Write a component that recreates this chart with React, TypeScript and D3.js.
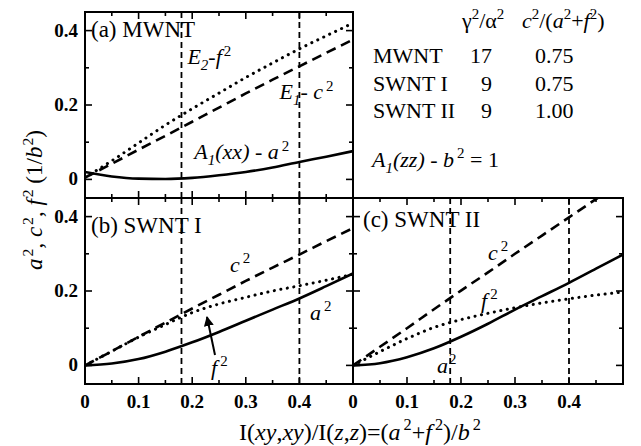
import React from 'react';
import * as d3 from 'd3';

// ---------- data ----------
const xGrid = [0, 0.05, 0.1, 0.15, 0.2, 0.25, 0.3, 0.35, 0.4, 0.45, 0.5];

// (a) MWNT
const mwntE2f2 = [0.005, 0.05, 0.098, 0.146, 0.19, 0.232, 0.274, 0.313, 0.351, 0.386, 0.42];
const mwntE1c2 = [0.005, 0.042, 0.08, 0.117, 0.155, 0.193, 0.231, 0.268, 0.304, 0.34, 0.376];
const mwntA1a2 = [0.02, 0.008, 0.002, 0.001, 0.004, 0.011, 0.02, 0.032, 0.047, 0.061, 0.076];

// (b) SWNT I
const swnt1c2 = [0, 0.038, 0.077, 0.115, 0.153, 0.19, 0.227, 0.263, 0.298, 0.334, 0.369];
const swnt1f2 = [0, 0.038, 0.076, 0.11, 0.142, 0.165, 0.183, 0.2, 0.214, 0.229, 0.245];
const swnt1a2 = [0, 0.005, 0.017, 0.037, 0.062, 0.09, 0.12, 0.15, 0.18, 0.213, 0.247];

// (c) SWNT II
const swnt2c2 = [0, 0.05, 0.1, 0.151, 0.201, 0.25, 0.3, 0.349, 0.398, 0.447, 0.495];
const swnt2f2 = [0, 0.037, 0.072, 0.102, 0.123, 0.14, 0.155, 0.168, 0.179, 0.189, 0.197];
const swnt2a2 = [0, 0.006, 0.022, 0.046, 0.077, 0.112, 0.15, 0.186, 0.222, 0.26, 0.298];

const refLines = [0.18, 0.4];
const xMajorTicks = [0, 0.1, 0.2, 0.3, 0.4, 0.5];
const xMinorTicks = [0.05, 0.15, 0.25, 0.35, 0.45];
const xTickLabels = ['0', '0.1', '0.2', '0.3', '0.4'];
const yMajorTicks = [0, 0.2, 0.4];
const yMinorTicks = [0.1, 0.3];
const yTickLabels = ['0', '0.2', '0.4'];

const tableNames = ['MWNT', 'SWNT I', 'SWNT II'];
const tableGamma = ['17', '9', '9'];
const tableRatio = ['0.75', '0.75', '1.00'];

// ---------- layout ----------
const W = 641, H = 446;
const FONT = 'Liberation Serif, Times New Roman, Times, DejaVu Serif, serif';
const xDomain: [number, number] = [0, 0.5];
const yDomain: [number, number] = [-0.05, 0.45];

type Box = { x0: number; x1: number; y0: number; y1: number };
const boxA: Box = { x0: 85, x1: 353, y0: 12, y1: 198 };
const boxB: Box = { x0: 85, x1: 353, y0: 198, y1: 384 };
const boxC: Box = { x0: 353, x1: 623, y0: 198, y1: 384 };

type Part = { t: string; s?: 'sup' | 'sub'; i?: boolean; dx?: number };

function Rich({ x, y, parts, size, anchor, transform }: { x: number; y: number; parts: Part[]; size: number; anchor?: string; transform?: string }) {
  let shift = 0;
  return (
    <text x={x} y={y} fontSize={size} style={{ fontFamily: FONT }} textAnchor={anchor || 'start'} transform={transform}>
      {parts.map((p, k) => {
        const target = p.s === 'sup' ? -size * 0.4 : p.s === 'sub' ? size * 0.25 : 0;
        const dy = target - shift;
        shift = target;
        return (
          <tspan key={k} dy={dy} dx={p.dx || 0} fontSize={p.s ? size * 0.68 : size} fontStyle={p.i ? 'italic' : 'normal'}>
            {p.t}
          </tspan>
        );
      })}
    </text>
  );
}

function makeScales(b: Box) {
  const x = d3.scaleLinear().domain(xDomain).range([b.x0, b.x1]);
  const y = d3.scaleLinear().domain(yDomain).range([b.y1, b.y0]);
  return { x, y };
}

const styles: Record<string, any> = {
  solid: { strokeWidth: 2.6 },
  dashed: { strokeWidth: 2.6, strokeDasharray: '10,6' },
  dotted: { strokeWidth: 3, strokeDasharray: '0.1,6.5', strokeLinecap: 'round' },
};

function Panel({ id, box, series, xLabels, yLabels }: { id: string; box: Box; series: { v: number[]; st: string }[]; xLabels: boolean; yLabels: boolean }) {
  const { x, y } = makeScales(box);
  const line = d3.line<number>().x((_, i) => x(xGrid[i])).y((d) => y(d)).curve(d3.curveMonotoneX);
  const maj = 7, min = 4;
  return (
    <g>
      <defs>
        <clipPath id={'clip' + id}>
          <rect x={box.x0} y={box.y0} width={box.x1 - box.x0} height={box.y1 - box.y0} />
        </clipPath>
      </defs>
      <g clipPath={`url(#clip${id})`}>
        {refLines.map((r) => (
          <line key={r} x1={x(r)} x2={x(r)} y1={box.y0} y2={box.y1} stroke="#000" strokeWidth={1.8} strokeDasharray="6,4" />
        ))}
        {series.map((s, i) => (
          <path key={i} d={line(s.v) || ''} fill="none" stroke="#000" {...styles[s.st]} />
        ))}
      </g>
      {xMajorTicks.map((t) => (
        <g key={'xm' + t}>
          <line x1={x(t)} x2={x(t)} y1={box.y1} y2={box.y1 - maj} stroke="#000" strokeWidth={1.6} />
          <line x1={x(t)} x2={x(t)} y1={box.y0} y2={box.y0 + maj} stroke="#000" strokeWidth={1.6} />
        </g>
      ))}
      {xMinorTicks.map((t) => (
        <g key={'xn' + t}>
          <line x1={x(t)} x2={x(t)} y1={box.y1} y2={box.y1 - min} stroke="#000" strokeWidth={1.6} />
          <line x1={x(t)} x2={x(t)} y1={box.y0} y2={box.y0 + min} stroke="#000" strokeWidth={1.6} />
        </g>
      ))}
      {yMajorTicks.map((t) => (
        <g key={'ym' + t}>
          <line x1={box.x0} x2={box.x0 + maj} y1={y(t)} y2={y(t)} stroke="#000" strokeWidth={1.6} />
          <line x1={box.x1} x2={box.x1 - maj} y1={y(t)} y2={y(t)} stroke="#000" strokeWidth={1.6} />
        </g>
      ))}
      {yMinorTicks.map((t) => (
        <g key={'yn' + t}>
          <line x1={box.x0} x2={box.x0 + min} y1={y(t)} y2={y(t)} stroke="#000" strokeWidth={1.6} />
          <line x1={box.x1} x2={box.x1 - min} y1={y(t)} y2={y(t)} stroke="#000" strokeWidth={1.6} />
        </g>
      ))}
      <rect x={box.x0} y={box.y0} width={box.x1 - box.x0} height={box.y1 - box.y0} fill="none" stroke="#000" strokeWidth={2} />
      {xLabels &&
        xTickLabels.map((l, i) => (
          <text key={'xl' + l} x={x(xMajorTicks[i])} y={box.y1 + 24} textAnchor="middle" style={{ fontFamily: FONT }} fontWeight="bold" fontSize={19}>
            {l}
          </text>
        ))}
      {yLabels &&
        yTickLabels.map((l, i) => (
          <text key={'yl' + l} x={box.x0 - 7} y={y(yMajorTicks[i]) + 6} textAnchor="end" style={{ fontFamily: FONT }} fontWeight="bold" fontSize={19}>
            {l}
          </text>
        ))}
    </g>
  );
}

export default function App() {
  const sA = makeScales(boxA);
  const fs = 22;
  const ft = 23;
  const T = { fontFamily: FONT };
  return (
    <svg width={W} height={H} viewBox={`0 0 ${W} ${H}`} style={{ position: 'absolute', left: 0, top: 0, background: '#fff', fontFamily: FONT }}>
      <defs>
        <marker id="arrowHead" viewBox="0 0 10 10" refX="9" refY="5" markerWidth="5" markerHeight="5" orient="auto">
          <path d="M0,0 L10,5 L0,10 z" fill="#000" />
        </marker>
      </defs>
      <rect x={0} y={0} width={W} height={H} fill="#fff" />

      <Panel id="a" box={boxA} xLabels={false} yLabels={true}
        series={[{ v: mwntE2f2, st: 'dotted' }, { v: mwntE1c2, st: 'dashed' }, { v: mwntA1a2, st: 'solid' }]} />
      <Panel id="b" box={boxB} xLabels={true} yLabels={true}
        series={[{ v: swnt1c2, st: 'dashed' }, { v: swnt1f2, st: 'dotted' }, { v: swnt1a2, st: 'solid' }]} />
      <Panel id="c" box={boxC} xLabels={true} yLabels={false}
        series={[{ v: swnt2c2, st: 'dashed' }, { v: swnt2f2, st: 'dotted' }, { v: swnt2a2, st: 'solid' }]} />

      <text x={91} y={37} style={T} fontSize={ft}>(a) MWNT</text>
      <text x={91} y={233} style={T} fontSize={ft}>(b) SWNT I</text>
      <text x={363} y={227} style={T} fontSize={ft}>(c) SWNT II</text>

      <Rich x={sA.x(0.191)} y={sA.y(0.309)} size={fs} parts={[{ t: 'E', i: true }, { t: '2', s: 'sub', i: true }, { t: '-', i: true }, { t: 'f', i: true }, { t: '2', s: 'sup', dx: 2 }]} />
      <Rich x={sA.x(0.363)} y={sA.y(0.215)} size={fs} parts={[{ t: 'E', i: true }, { t: '1', s: 'sub', i: true }, { t: '- ' }, { t: 'c', i: true }, { t: '2', s: 'sup', dx: 3 }]} />
      <Rich x={sA.x(0.204)} y={sA.y(0.054)} size={fs} parts={[{ t: 'A', i: true }, { t: '1', s: 'sub', i: true }, { t: '(xx) - a', i: true }, { t: '2', s: 'sup', dx: 3 }]} />

      <Rich x={230} y={272} size={fs} parts={[{ t: 'c', i: true }, { t: '2', s: 'sup', dx: 3 }]} />
      <Rich x={310} y={320} size={fs} parts={[{ t: 'a', i: true }, { t: '2', s: 'sup', dx: 3 }]} />
      <Rich x={211} y={375} size={fs} parts={[{ t: 'f', i: true }, { t: '2', s: 'sup', dx: 3 }]} />
      <line x1={215} y1={355} x2={207} y2={317} stroke="#000" strokeWidth={2} markerEnd="url(#arrowHead)" />

      <Rich x={488} y={260} size={fs} parts={[{ t: 'c', i: true }, { t: '2', s: 'sup', dx: 3 }]} />
      <Rich x={481} y={308} size={fs} parts={[{ t: 'f', i: true }, { t: '2', s: 'sup', dx: 3 }]} />
      <Rich x={437} y={373} size={fs} parts={[{ t: 'a', i: true }, { t: '2', s: 'sup', dx: 1 }]} />

      <Rich x={462} y={28} size={fs} parts={[{ t: 'γ' }, { t: '2', s: 'sup' }, { t: '/α' }, { t: '2', s: 'sup' }]} />
      <Rich x={522} y={28} size={fs} parts={[{ t: 'c', i: true }, { t: '2', s: 'sup' }, { t: '/(' }, { t: 'a', i: true }, { t: '2', s: 'sup' }, { t: '+' }, { t: 'f', i: true }, { t: '2', s: 'sup' }, { t: ')' }]} />
      {tableNames.map((n, i) => (
        <g key={n}>
          <text x={373} y={63 + i * 27.5} style={T} fontSize={fs}>{n}</text>
          <text x={492} y={63 + i * 27.5} style={T} fontSize={fs} textAnchor="end">{tableGamma[i]}</text>
          <text x={535} y={63 + i * 27.5} style={T} fontSize={fs}>{tableRatio[i]}</text>
        </g>
      ))}
      <Rich x={372} y={167} size={fs} parts={[{ t: 'A', i: true }, { t: '1', s: 'sub', i: true }, { t: '(zz) - ', i: true }, { t: 'b', i: true }, { t: '2', s: 'sup', dx: 3 }, { t: ' = 1' }]} />

      <Rich x={360} y={440} size={24} anchor="middle" parts={[{ t: 'I(' }, { t: 'xy', i: true }, { t: ',' }, { t: 'xy', i: true }, { t: ')/I(' }, { t: 'z', i: true }, { t: ',' }, { t: 'z', i: true }, { t: ')=(' }, { t: 'a', i: true }, { t: '2', s: 'sup', dx: 3 }, { t: '+' }, { t: 'f', i: true }, { t: '2', s: 'sup', dx: 3 }, { t: ')/' }, { t: 'b', i: true }, { t: '2', s: 'sup', dx: 3 }]} />
      <Rich x={0} y={0} size={23} anchor="middle" transform="translate(42,200) rotate(-90)" parts={[{ t: 'a', i: true }, { t: '2', s: 'sup', dx: 2 }, { t: ', ' }, { t: 'c', i: true }, { t: '2', s: 'sup', dx: 2 }, { t: ', ' }, { t: 'f', i: true }, { t: '2', s: 'sup', dx: 2 }, { t: ' (1/' }, { t: 'b', i: true }, { t: '2', s: 'sup', dx: 1 }, { t: ')' }]} />
    </svg>
  );
}
